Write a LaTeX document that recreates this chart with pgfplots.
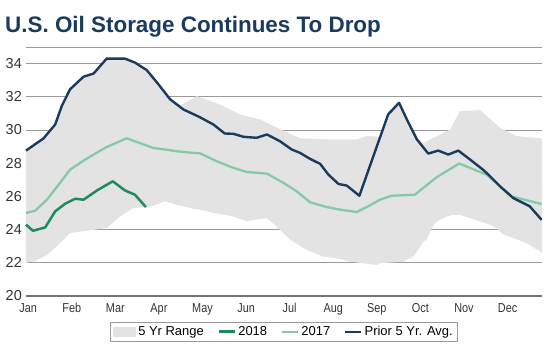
\documentclass[border=0pt]{standalone}
\usepackage{fontspec}
\setmainfont{Liberation Sans}
\newfontfamily\narrowfont[FakeStretch=0.84]{Liberation Sans}
\usepackage{pgfplots}
\pgfplotsset{compat=1.18}
\definecolor{navy}{HTML}{1A3A5E}
\definecolor{gA}{HTML}{1E8B5C}
\definecolor{gB}{HTML}{85C9A6}
\definecolor{rng}{HTML}{E3E3E3}
\definecolor{grd}{HTML}{9A9A9A}
\pgfplotsset{lineleg/.style={legend image code/.code={\draw[##1] (0bp,0bp) -- (16bp,0bp);}}}
\begin{document}
\begin{tikzpicture}
\useasboundingbox (-26bp,-52bp) rectangle (533bp,296bp);
\begin{axis}[
  scale only axis, width=516bp, height=249bp,
  xmin=-0.05, xmax=11.79, ymin=20, ymax=35,
  axis line style={draw=none},
  xtick={0,...,11},
  xticklabels={Jan,Feb,Mar,Apr,May,Jun,Jul,Aug,Sep,Oct,Nov,Dec},
  ytick={20,22,...,34},
  major tick length=0pt,
  ymajorgrids, grid style={grd, line width=0.8bp},
  /pgf/number format/assume math mode=true,
  yticklabel style={anchor=east, inner sep=0pt, xshift=-4bp, font=\fontsize{14.5}{15}\selectfont, text=black!80},
  xticklabel style={anchor=base, inner sep=0pt, yshift=-16bp, font=\narrowfont\fontsize{13}{14}\selectfont, text=black!80},
  legend columns=4,
  legend style={at={(0.5,-0.1044)}, anchor=north, draw=grd, line width=0.6bp,
    font=\fontsize{13}{14}\selectfont, inner xsep=3bp, inner ysep=2bp,
    /tikz/every even column/.style={column sep=12bp},
    nodes={inner sep=2bp}},
  legend cell align=left,
  clip=false,
]
\addplot[fill=rng, draw=none, area legend,
  legend image code/.code={\fill[rng] (0bp,-5bp) rectangle (23bp,5bp);}] coordinates {
(-0.05,28.8) (0.35,29.55) (0.62,30.4) (0.77,31.5) (0.96,32.5) (1.27,33.3) (1.50,33.45) (1.80,34.35) (2.22,34.35) (2.45,34.1) (2.72,33.65) (2.99,32.8) (3.26,31.9) (3.5,31.5) (3.87,32.04) (4.4,31.54) (4.86,30.94) (5.32,30.63) (5.78,30.05) (6.24,29.5) (7.0,29.43) (7.54,29.43) (7.77,29.63) (8.08,29.6) (8.26,31.0) (8.51,31.7) (8.69,30.7) (8.92,29.5) (9.07,29.23) (9.68,30.03) (9.91,31.14) (10.37,31.2) (10.83,30.13) (11.21,29.63) (11.79,29.5)
(11.79,22.6) (11.44,23.18) (11.13,23.5) (10.90,23.7) (10.75,24.09) (10.60,24.29) (10.37,24.49) (10.14,24.69) (9.91,24.89) (9.75,24.89) (9.60,24.79) (9.45,24.59) (9.30,24.3) (9.14,23.39) (9.07,23.28) (8.84,22.37) (8.76,22.27) (8.61,22.07) (8.07,21.97) (8.0,21.87) (7.39,22.07) (7.08,22.27) (6.77,22.37) (6.39,22.78) (6.01,23.39) (5.70,24.19) (5.48,24.69) (5.17,24.59) (5.02,24.49) (4.71,24.79) (4.25,25.0) (3.94,25.20) (3.79,25.25) (3.41,25.50) (3.14,25.70) (2.87,25.44) (2.72,25.36) (2.41,25.30) (2.11,24.79) (1.80,24.09) (1.35,23.93) (0.96,23.79) (0.65,22.98) (0.43,22.47) (0.16,22.1) (-0.05,22.0)
};
\addlegendentry{5 Yr Range}
\addplot[gA, line width=2.5bp, line join=round, lineleg] coordinates {
(-0.05,24.3) (0.11,23.93) (0.39,24.13) (0.62,25.10) (0.85,25.56) (1.08,25.86) (1.27,25.80) (1.58,26.36) (1.94,26.91) (2.22,26.36) (2.45,26.10) (2.70,25.36)
};
\addlegendentry{2018}
\addplot[gB, line width=2.3bp, line join=round, lineleg] coordinates {
(-0.05,25.0) (0.16,25.14) (0.43,25.80) (0.70,26.71) (0.96,27.61) (1.31,28.22) (1.78,28.95) (2.26,29.50) (2.87,28.92) (3.41,28.72) (3.79,28.62) (3.94,28.6) (4.33,28.11) (4.71,27.72) (5.02,27.47) (5.48,27.37) (5.86,26.81) (6.16,26.31) (6.47,25.64) (6.85,25.36) (7.16,25.2) (7.54,25.06) (7.80,25.40) (8.07,25.80) (8.34,26.04) (8.87,26.10) (9.37,27.15) (9.89,27.98) (10.52,27.31) (11.09,26.0) (11.78,25.54)
};
\addlegendentry{2017}
\addplot[navy, line width=2.4bp, line join=round, lineleg] coordinates {
(-0.05,28.76) (0.35,29.49) (0.62,30.33) (0.77,31.44) (0.96,32.45) (1.27,33.21) (1.50,33.40) (1.80,34.30) (2.22,34.30) (2.45,34.06) (2.72,33.61) (2.99,32.75) (3.26,31.84) (3.56,31.24) (3.94,30.77) (4.25,30.33) (4.51,29.79) (4.71,29.77) (4.94,29.59) (5.24,29.53) (5.48,29.73) (5.78,29.32) (6.05,28.82) (6.24,28.62) (6.47,28.26) (6.70,27.96) (6.89,27.31) (7.12,26.75) (7.31,26.65) (7.60,26.04) (8.26,30.94) (8.51,31.64) (8.69,30.63) (8.92,29.43) (9.18,28.58) (9.41,28.76) (9.64,28.52) (9.87,28.76) (10.14,28.22) (10.44,27.6) (10.56,27.31) (10.83,26.6) (11.13,25.9) (11.51,25.40) (11.78,24.59)
};
\addlegendentry{Prior 5 Yr. Avg.}
\draw[grd, line width=0.8bp] (axis cs:-0.05,35) -- (axis cs:11.79,35);
\draw[black!55, line width=1.2bp] (axis cs:-0.05,20) -- (axis cs:11.79,20);
\end{axis}
\node[anchor=base west, inner sep=0pt, text=navy, font=\bfseries\fontsize{22.5}{24}\selectfont] at (-21bp,263bp) {U.S. Oil Storage Continues To Drop};
\end{tikzpicture}
\end{document}
